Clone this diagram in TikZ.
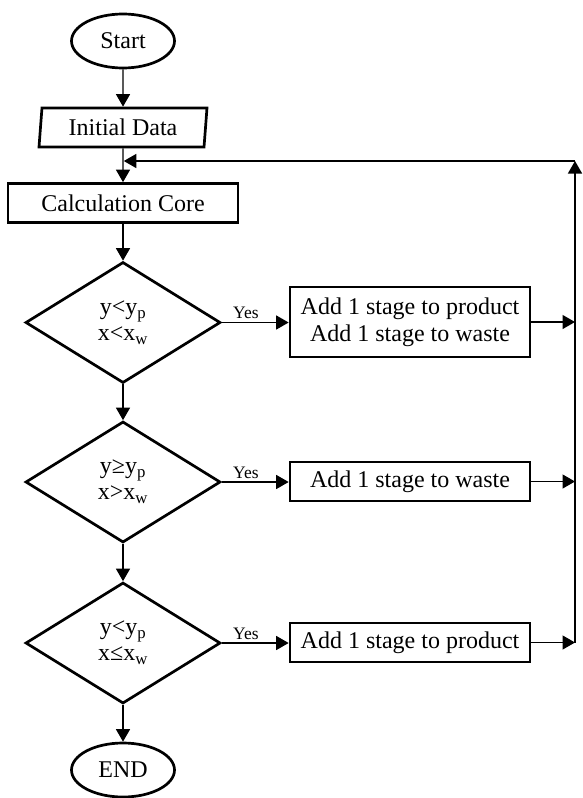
\documentclass[tikz,border=0pt]{standalone}
\usepackage{fontspec}
\setmainfont{Liberation Serif}
\usetikzlibrary{shapes.geometric, arrows.meta, positioning, calc}

\tikzset{
    terminal/.style={ellipse, draw, line width=2.7pt, minimum width=103pt, minimum height=54pt, inner sep=0pt},
    process/.style={rectangle, draw, line width=2.7pt, minimum height=39pt, align=center},
    io/.style={trapezium, trapezium left angle=80, trapezium right angle=100, trapezium stretches body,
        draw, line width=2.7pt, minimum width=168pt, minimum height=39pt, inner sep=0pt},
    decision/.style={diamond, draw, line width=2.7pt, minimum width=195pt, minimum height=121pt,
        inner sep=0pt, align=center, font=\fontsize{24}{26}\selectfont},
    arr/.style={-{Triangle[length=12.5pt,width=14pt]}, line width=1.4pt},
    yes/.style={above, pos=0.36, inner sep=3pt, font=\fontsize{17.5}{17.5}\selectfont}
}

\begin{document}
\begin{tikzpicture}[x=1pt, y=-1pt, font=\fontsize{24}{27}\selectfont]
    \useasboundingbox (0,0) rectangle (582,798);

    % Main column
    \node[terminal] (start) at (123,41) {Start};
    \node[io] (data) at (123,127.5) {Initial Data};
    \node[process, minimum width=230pt] (core) at (123,203) {Calculation Core};
    \node[decision] (d1) at (123,322.5) {y<y\textsubscript{p}\\x<x\textsubscript{w}};
    \node[decision] (d2) at (123,482) {y≥y\textsubscript{p}\\x>x\textsubscript{w}};
    \node[decision] (d3) at (123,643) {y<y\textsubscript{p}\\x≤x\textsubscript{w}};
    \node[terminal] (stop) at (123,770) {END};

    % Actions
    \node[process, minimum width=240pt, minimum height=70pt] (b1) at (410,322) {Add 1 stage to product\\Add 1 stage to waste};
    \node[process, minimum width=240pt] (b2) at (410,481.5) {Add 1 stage to waste};
    \node[process, minimum width=240pt] (b3) at (410,642.5) {Add 1 stage to product};

    \foreach \a/\b in {start/data, data/core, core/d1, d1/d2, d2/d3, d3/stop} {
        \draw[arr] (\a) -- (\b);
    }

    % Feedback loop
    \coordinate (loopR) at (575,161);
    \coordinate (loopL) at (123,161);
    \foreach \i in {1,2,3} {
        \draw[arr] (d\i.east) -- node[yes] {Yes} (d\i.east -| b\i.west);
        \draw[arr] (b\i.east) -- (b\i.east -| loopR);
    }
    \draw[arr] (b3.east -| loopR) -- (loopR);
    \draw[arr, shorten >=0.8pt] (loopR) -- (loopL);
\end{tikzpicture}
\end{document}
